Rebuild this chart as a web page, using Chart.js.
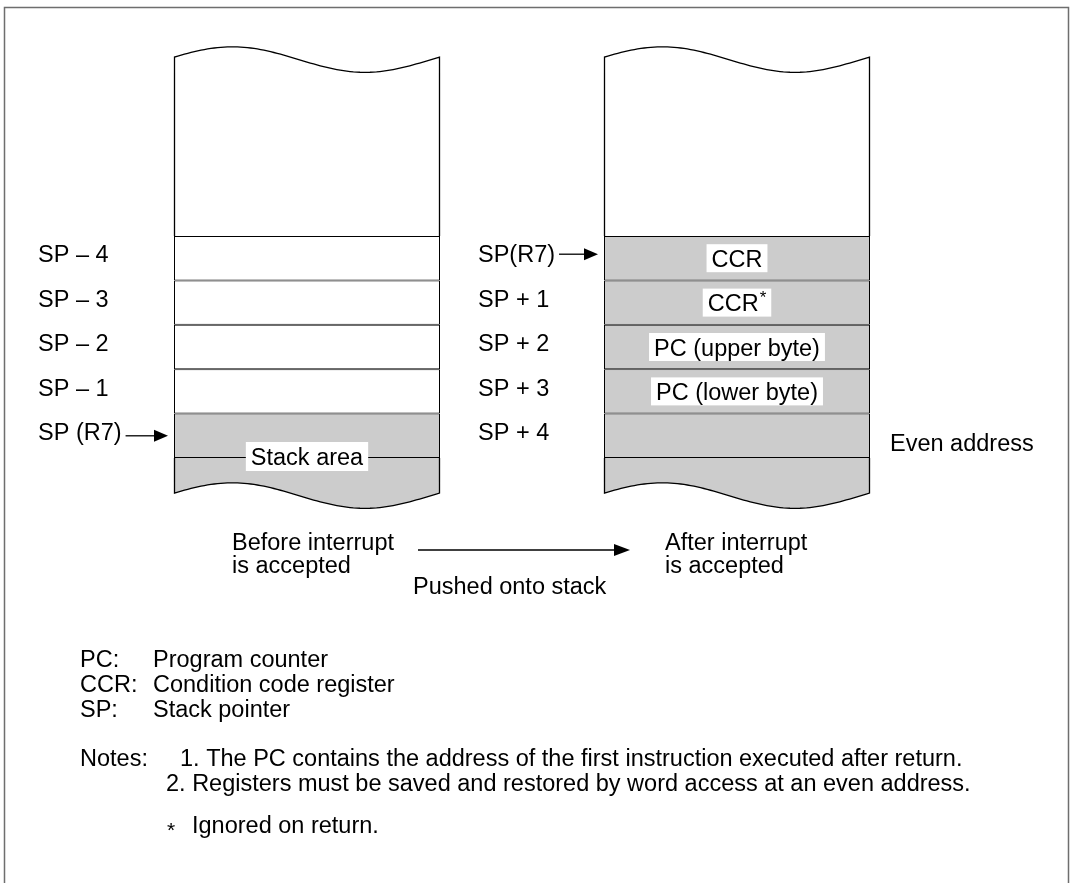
<!DOCTYPE html>
<html>
<head>
<meta charset="utf-8">
<script src="https://cdn.jsdelivr.net/npm/chart.js@4.4.0/dist/chart.umd.min.js"></script>
<style>
  body { margin: 0; background: #fff; }
  canvas { display: block; }
</style>
</head>
<body>
<canvas id="stackChart" width="1075" height="883"></canvas>
<script>
// stack columns and the rows shown in each (top row first)
const columns = ['Before', 'After'];
const captions = [['Before interrupt', 'is accepted'], ['After interrupt', 'is accepted']];
const beforeAddresses = ['SP – 4', 'SP – 3', 'SP – 2', 'SP – 1', 'SP (R7)'];
const afterAddresses = ['SP(R7)', 'SP + 1', 'SP + 2', 'SP + 3', 'SP + 4'];
const afterContents = ['CCR', 'CCR*', 'PC (upper byte)', 'PC (lower byte)', ''];
const beforeUsed = [0, 0, 0, 0, 1];   // 1 = stack area (shaded)
const afterUsed = [1, 1, 1, 1, 1];
const spRow = [4, 0];                 // row the SP points at, per column
const terms = [['PC:', 'Program counter'], ['CCR:', 'Condition code register'], ['SP:', 'Stack pointer']];
const notes = [
    '1. The PC contains the address of the first instruction executed after return.',
    '2. Registers must be saved and restored by word access at an even address.'
];
const footnote = 'Ignored on return.';

const rowTop = 236, rowH = 44.4, H = 883;
const capTop = -4.03, capBottom = 5.79;
const GRAY = '#cccccc';
const FONT = '23.5px "Liberation Sans", Arial, sans-serif';

const datasets = beforeUsed.map((u, i) => ({
    label: 'row' + i,
    data: [[i, i + 1], [i, i + 1]],
    backgroundColor: [u ? GRAY : '#fff', afterUsed[i] ? GRAY : '#fff'],
    borderColor: '#000',
    borderWidth: 1,
    borderSkipped: false,
    inflateAmount: 0,
    barThickness: 266,
    grouped: false
}));

function wave(t) {
    return -12.5 * Math.sin(2 * Math.PI * t) + 2.5 * (1 - Math.cos(2 * Math.PI * t));
}

function arrow(ctx, x0, x1, y, len, half) {
    ctx.beginPath();
    ctx.moveTo(x0, y);
    ctx.lineTo(x1 - len, y);
    ctx.stroke();
    ctx.beginPath();
    ctx.moveTo(x1, y);
    ctx.lineTo(x1 - len, y - half);
    ctx.lineTo(x1 - len, y + half);
    ctx.closePath();
    ctx.fill();
}

const diagram = {
    id: 'diagram',
    beforeDatasetsDraw(chart) {
        const ctx = chart.ctx;
        const y = chart.scales.y;
        const meta = chart.getDatasetMeta(0);
        ctx.save();
        // frame
        ctx.strokeStyle = '#6e6e6e';
        ctx.lineWidth = 1.5;
        ctx.beginPath();
        ctx.moveTo(4.5, H);
        ctx.lineTo(4.5, 7.5);
        ctx.lineTo(1068.5, 7.5);
        ctx.lineTo(1068.5, H);
        ctx.stroke();

        ctx.strokeStyle = '#000';
        ctx.lineWidth = 1.3;
        meta.data.forEach((bar) => {
            const L = bar.x - bar.width / 2 + 0.5, R = bar.x + bar.width / 2 - 0.5;
            // torn top of the memory map
            const yt = y.getPixelForValue(capTop), y0 = y.getPixelForValue(0);
            ctx.beginPath();
            ctx.moveTo(L, y0);
            ctx.lineTo(L, yt);
            for (let k = 1; k <= 80; k++) {
                ctx.lineTo(L + (R - L) * k / 80, yt + wave(k / 80));
            }
            ctx.lineTo(R, y0);
            ctx.fillStyle = '#fff';
            ctx.fill();
            ctx.stroke();
            // torn bottom
            const y5 = y.getPixelForValue(5), yb = y.getPixelForValue(capBottom);
            ctx.beginPath();
            ctx.moveTo(L, y5);
            ctx.lineTo(L, yb);
            for (let k = 1; k <= 80; k++) {
                ctx.lineTo(L + (R - L) * k / 80, yb + wave(k / 80));
            }
            ctx.lineTo(R, y5);
            ctx.fillStyle = GRAY;
            ctx.fill();
            ctx.stroke();
        });
        ctx.restore();
    },
    afterDatasetsDraw(chart) {
        const ctx = chart.ctx;
        const y = chart.scales.y;
        const meta = chart.getDatasetMeta(0);
        const cols = meta.data.map(b => ({ L: b.x - b.width / 2, R: b.x + b.width / 2, C: b.x }));
        ctx.save();
        ctx.fillStyle = '#000';
        ctx.strokeStyle = '#000';
        ctx.lineWidth = 1.3;
        ctx.font = FONT;
        ctx.textBaseline = 'alphabetic';
        ctx.textAlign = 'left';

        // address labels and the SP arrows
        const addrDx = [-136, -126];
        const arrowDy = [0, -4];
        [beforeAddresses, afterAddresses].forEach((list, c) => {
            list.forEach((t, i) => {
                const lx = cols[c].L + addrDx[c];
                ctx.fillText(t, lx, y.getPixelForValue(i + 1) - 18);
                if (i === spRow[c]) {
                    const ay = y.getPixelForValue(i + 0.5) + arrowDy[c];
                    arrow(ctx, lx + ctx.measureText(t).width + 4, cols[c].L - 6, ay, 14, 6);
                }
            });
        });

        // contents of the pushed words
        afterContents.forEach((t, i) => {
            if (!t) return;
            const sup = t.endsWith('*');
            const main = sup ? t.slice(0, -1) : t;
            ctx.font = FONT;
            const w = ctx.measureText(main).width;
            ctx.font = '17px "Liberation Sans", Arial, sans-serif';
            const ws = sup ? ctx.measureText('*').width + 1 : 0;
            const cy = y.getPixelForValue(i + 0.5);
            const x0 = cols[1].C - (w + ws) / 2;
            ctx.fillStyle = '#fff';
            ctx.fillRect(x0 - 5, cy - 14, w + ws + 10, 28);
            ctx.fillStyle = '#000';
            ctx.font = FONT;
            ctx.fillText(main, x0, cy + 8.5);
            if (sup) {
                ctx.font = '17px "Liberation Sans", Arial, sans-serif';
                ctx.fillText('*', x0 + w + 1, cy + 8.5 - 8);
            }
        });

        // stack area label on the left column
        ctx.font = FONT;
        const sw = ctx.measureText('Stack area').width;
        const sy = y.getPixelForValue(5) - 1.5;
        ctx.fillStyle = '#fff';
        ctx.fillRect(cols[0].C - sw / 2 - 5, sy - 14.5, sw + 10, 29);
        ctx.fillStyle = '#000';
        ctx.textAlign = 'center';
        ctx.fillText('Stack area', cols[0].C, sy + 8.5);

        ctx.textAlign = 'left';
        ctx.fillText('Even address', cols[1].R + 20, y.getPixelForValue(5) - 7);

        // captions and transition arrow
        const capDx = [58, 61];
        captions.forEach((lines, c) => {
            lines.forEach((t, k) => ctx.fillText(t, cols[c].L + capDx[c], 550 + k * 23));
        });
        arrow(ctx, 418, 630, 550, 16, 6);
        ctx.fillText('Pushed onto stack', 413, 594);

        // legend and notes
        ctx.font = FONT;
        terms.forEach((t, k) => {
            const by = 667 + k * 25;
            ctx.fillText(t[0], 80, by);
            ctx.fillText(t[1], 153, by);
        });
        ctx.fillText('Notes:', 80, 766);
        ctx.fillText(notes[0], 180, 766);
        ctx.fillText(notes[1], 166, 791);
        ctx.font = '21px "Liberation Sans", Arial, sans-serif';
        ctx.fillText('*', 167, 837);
        ctx.font = FONT;
        ctx.fillText(footnote, 192, 833);
        ctx.restore();
    }
};

new Chart(document.getElementById('stackChart'), {
    type: 'bar',
    data: { labels: columns, datasets: datasets },
    options: {
        responsive: false,
        animation: false,
        devicePixelRatio: 1,
        layout: { padding: { left: 92, right: 123, top: 0, bottom: 0 } },
        scales: {
            x: { display: false },
            y: { display: false, reverse: true, min: -rowTop / rowH, max: (H - rowTop) / rowH }
        },
        plugins: { legend: { display: false }, tooltip: { enabled: false } }
    },
    plugins: [diagram]
});
</script>
</body>
</html>
